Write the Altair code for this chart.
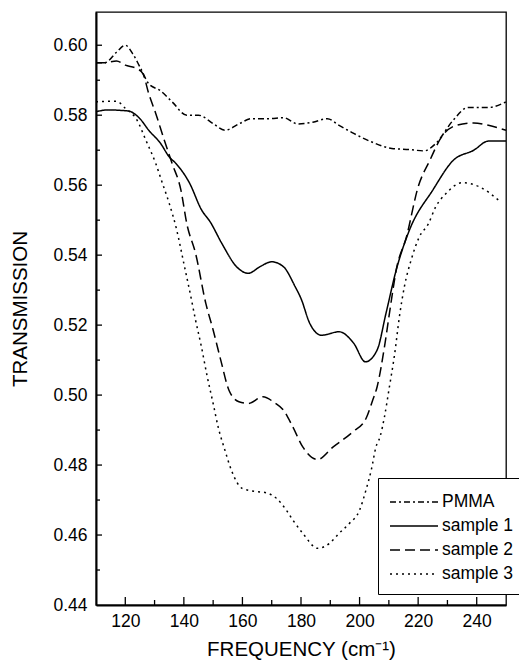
import altair as alt
import pandas as pd

# ---- data ----
pmma_freq = [110, 113, 117, 120, 122.5, 125, 128, 132, 136, 141, 145, 150, 154, 159, 163, 169, 174, 179, 184, 189, 193, 198, 204, 211, 217, 222, 226, 232, 237, 244, 250]
pmma_trans = [0.595, 0.595, 0.598, 0.600, 0.5976, 0.5938, 0.589, 0.587, 0.5838, 0.580, 0.580, 0.5776, 0.5757, 0.5776, 0.579, 0.579, 0.5793, 0.5775, 0.578, 0.579, 0.5771, 0.5748, 0.5724, 0.5705, 0.5702, 0.5698, 0.5719, 0.5786, 0.5822, 0.5822, 0.5838]

s1_freq = [110, 114, 121, 125, 128, 132, 135, 137.3, 142, 146, 149, 153, 158, 162, 166, 170, 174, 178, 180, 183, 187, 193, 198, 202, 206, 209, 212.5, 217, 225, 232, 239, 244, 250]
s1_trans = [0.581, 0.5815, 0.5812, 0.579, 0.5757, 0.572, 0.5681, 0.5662, 0.5605, 0.553, 0.5495, 0.5433, 0.5367, 0.5348, 0.5367, 0.5381, 0.5367, 0.531, 0.5276, 0.5205, 0.5171, 0.5181, 0.5148, 0.5095, 0.5129, 0.5233, 0.5357, 0.5471, 0.5586, 0.5671, 0.570, 0.5726, 0.5726]

s2_freq = [110, 113, 117, 120, 124, 126, 128, 130.4, 133.3, 136, 139, 141, 144, 147.5, 150, 152.6, 155.4, 158.8, 162, 167, 171, 174, 177.2, 180.6, 185.7, 191, 197.7, 202.2, 204.5, 206, 208.5, 210.7, 212.5, 216, 220, 224, 228, 233, 239, 244, 250]
s2_trans = [0.595, 0.595, 0.5955, 0.5943, 0.5933, 0.5919, 0.5862, 0.5805, 0.5729, 0.5662, 0.5586, 0.549, 0.5405, 0.5262, 0.5186, 0.510, 0.5014, 0.4981, 0.4976, 0.4995, 0.4978, 0.4957, 0.4909, 0.4852, 0.4816, 0.4852, 0.4895, 0.4933, 0.4986, 0.5024, 0.5138, 0.5262, 0.5357, 0.5452, 0.5595, 0.5671, 0.5738, 0.5771, 0.5778, 0.5771, 0.5757]

s3_freq = [110, 117, 120, 124, 127, 130.4, 132.7, 135, 137.5, 140, 142.4, 144, 146, 148, 150, 151.7, 154, 156.2, 160, 165, 168, 171.6, 175, 177.2, 180.6, 185.7, 189.7, 193, 196.5, 200, 202.2, 204, 205.6, 207, 208.5, 210.2, 212, 213.6, 215.3, 217.6, 220.4, 223.5, 226, 229.5, 235, 241, 247.5]
s3_trans = [0.5838, 0.584, 0.582, 0.5786, 0.5729, 0.5662, 0.5605, 0.5548, 0.5474, 0.5376, 0.5281, 0.5214, 0.5138, 0.5052, 0.4976, 0.4909, 0.4843, 0.4786, 0.4733, 0.4724, 0.4721, 0.4705, 0.4671, 0.4643, 0.4605, 0.4562, 0.4576, 0.4605, 0.4633, 0.4671, 0.4729, 0.4786, 0.4852, 0.4881, 0.4938, 0.5024, 0.5119, 0.5224, 0.5310, 0.5386, 0.5452, 0.549, 0.5538, 0.5576, 0.5607, 0.5595, 0.5557]

series_names = ["PMMA", "sample 1", "sample 2", "sample 3"]
x_major = [120, 140, 160, 180, 200, 220, 240]
x_minor = [130, 150, 170, 190, 210, 230]
y_major = [0.44, 0.46, 0.48, 0.50, 0.52, 0.54, 0.56, 0.58, 0.60]
y_minor = [0.45, 0.47, 0.49, 0.51, 0.53, 0.55, 0.57, 0.59]

# ---- tables ----
rows = []
for name, fs, ts in zip(series_names, [pmma_freq, s1_freq, s2_freq, s3_freq],
                        [pmma_trans, s1_trans, s2_trans, s3_trans]):
    for f, t in zip(fs, ts):
        rows.append({"series": name, "freq": f, "trans": t})
df = pd.DataFrame(rows)

W, H = 410, 593
FONT = "Liberation Sans"
xscale = alt.Scale(domain=[110, 250], nice=False, zero=False)
yscale = alt.Scale(domain=[0.44, 0.6095], nice=False, zero=False)

xaxis = alt.Axis(title="FREQUENCY  (cm⁻¹)", values=x_major, ticks=False, tickSize=0,
                 grid=False, labelPadding=7, titlePadding=10, domainWidth=2,
                 domainColor="black", labelFontSize=17.5, titleFontSize=20.5,
                 labelColor="black", titleColor="black", titleFontWeight="normal",
                 labelFont=FONT, titleFont=FONT)
yaxis = alt.Axis(title="TRANSMISSION", values=y_major, format=".2f", ticks=False, tickSize=0,
                 grid=False, labelPadding=9, titlePadding=22, domainWidth=2,
                 domainColor="black", labelFontSize=17.5, titleFontSize=20.5,
                 labelColor="black", titleColor="black", titleFontWeight="normal",
                 labelFont=FONT, titleFont=FONT)

lines = alt.Chart(df).mark_line(color="black", strokeWidth=1.5, interpolate="monotone").encode(
    x=alt.X("freq:Q", scale=xscale, axis=xaxis),
    y=alt.Y("trans:Q", scale=yscale, axis=yaxis),
    strokeDash=alt.StrokeDash("series:N",
        scale=alt.Scale(domain=series_names, range=[[6, 3, 2, 3], [1, 0], [10, 5], [2, 4]]),
        legend=alt.Legend(title=None, orient="none", legendX=282, legendY=466,
                          symbolType="M-1,0H3", symbolSize=576, symbolStrokeWidth=1.5,
                          symbolStrokeColor="black", labelFontSize=17.5, labelFont=FONT,
                          labelColor="black", strokeColor="black", fillColor="white",
                          padding=11, labelOffset=27)),
    order=alt.Order("freq:Q"),
)

def vticks(vals, length):
    return alt.Chart(pd.DataFrame({"freq": vals})).mark_rule(color="black", strokeWidth=1.3).encode(
        x=alt.X("freq:Q", scale=xscale, axis=xaxis),
        y=alt.value(H), y2=alt.value(H - length))

def hticks(vals, length):
    return alt.Chart(pd.DataFrame({"trans": vals})).mark_rule(color="black", strokeWidth=1.3).encode(
        y=alt.Y("trans:Q", scale=yscale, axis=yaxis),
        x=alt.value(0), x2=alt.value(length))

chart = alt.layer(
    lines, vticks(x_major, 8), vticks(x_minor, 5), hticks(y_major[1:], 6), hticks(y_minor, 4)
).properties(
    width=W, height=H,
    autosize=alt.AutoSizeParams(type="none"),
    padding={"left": 88, "top": 4, "right": 13, "bottom": 56},
).configure(background="white").configure_view(stroke="black", strokeWidth=1.3)

chart.save("out.html", embed_options={"renderer": "svg", "actions": False})
